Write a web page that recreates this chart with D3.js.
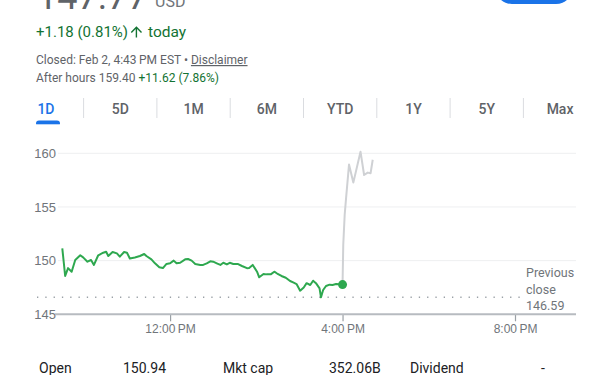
<!DOCTYPE html>
<html>
<head>
<meta charset="utf-8">
<script src="https://cdn.jsdelivr.net/npm/d3@7"></script>
<style>
  body { margin: 0; background: #fff; }
  svg { font-family: Roboto, "Noto Sans", Arial, sans-serif; display: block; }
</style>
</head>
<body>
<svg id="chart" width="592" height="375"></svg>
<script>
// regular session (green)
var times = ["9:30","9:34","9:38","9:43","9:48","9:55","9:59","10:05","10:10","10:14","10:20","10:27","10:31","10:34","10:40","10:46","10:50","10:56","11:00","11:04","11:11","11:18","11:24","11:27","11:34","11:39","11:45","11:50","11:55","12:00","12:05","12:09","12:14","12:21","12:25","12:30","12:35","12:42","12:46","12:51","12:56","13:00","13:05","13:10","13:14","13:19","13:23","13:28","13:34","13:40","13:47","13:50","13:55","14:01","14:04","14:10","14:14","14:20","14:25","14:29","14:35","14:41","14:47","14:52","14:56","15:01","15:06","15:10","15:15","15:19","15:23","15:28","15:30","15:33","15:37","15:42","15:46","15:51","16:00"];
var prices = [151.15,148.57,149.3,148.97,150.06,150.5,150.3,149.9,150.06,149.6,150.5,150.74,150.83,150.43,150.8,150.68,150.37,150.8,150.74,150.2,150.3,150.43,150.62,150.43,150.12,149.75,149.38,149.31,149.69,149.75,150.0,149.75,149.8,150.12,150.15,150.0,149.69,149.6,149.6,149.75,149.94,149.9,149.75,149.6,149.8,149.65,149.8,149.69,149.69,149.5,149.3,149.31,149.6,148.97,148.45,148.75,148.72,148.72,148.97,148.8,148.57,148.41,148.1,147.95,147.82,147.2,147.5,147.9,147.73,148.13,147.9,147.42,146.58,147.26,147.64,147.76,147.73,147.82,147.77];

// after hours (grey)
var ahTimes = ["16:00","16:01","16:03","16:05","16:09","16:15","16:25","16:30","16:35","16:39","16:42"];
var ahPrices = [147.77,151.5,154.3,155.9,158.95,157.27,160.15,157.98,158.2,158.14,159.4];

var previousClose = 146.59;
var yTicks = [145, 150, 155, 160];
var xTicks = ["12:00", "16:00", "20:00"];
var xDomain = ["9:30", "20:00"];
var tabs = ["1D", "5D", "1M", "6M", "YTD", "1Y", "5Y", "Max"];
var stats = [["Open", "150.94"], ["Mkt cap", "352.06B"], ["Dividend", "-"]];

var parseTime = d3.timeParse("%H:%M");
var svg = d3.select("#chart");

// header
svg.append("rect").attr("x", 495).attr("y", -30).attr("width", 78).attr("height", 34)
  .attr("rx", 17).attr("fill", "#1a73e8");

svg.append("text").attr("x", 37).attr("y", 9).attr("font-size", 36).attr("fill", "#5f6368")
  .text("147.77");
svg.append("text").attr("x", 155).attr("y", 7).attr("font-size", 16).attr("fill", "#70757a")
  .text("USD");

var green = "#137333";
svg.append("text").attr("x", 36).attr("y", 37).attr("font-size", 15).attr("fill", green)
  .text("+1.18 (0.81%)");
svg.append("path")
  .attr("d", "M4 12l1.41 1.41L11 7.83V20h2V7.83l5.58 5.59L20 12l-8-8-8 8z")
  .attr("transform", "translate(128,23.5) scale(0.7)")
  .attr("fill", green);
svg.append("text").attr("x", 148).attr("y", 37).attr("font-size", 15.5).attr("fill", green)
  .text("today");

var closedText = svg.append("text").attr("x", 36).attr("y", 64).attr("font-size", 12).attr("fill", "#5f6368");
closedText.append("tspan").text("Closed: Feb 2, 4:43\u2009PM EST \u2022 ");
closedText.append("tspan").attr("text-decoration", "underline").text("Disclaimer");

var ahText = svg.append("text").attr("x", 36).attr("y", 82).attr("font-size", 12).attr("fill", "#5f6368");
ahText.append("tspan").text("After hours 159.40 ");
ahText.append("tspan").attr("fill", green).text("+11.62 (7.86%)");

// tabs
var tabW = 73.3, tabX0 = 10.3;
svg.selectAll(".tab").data(tabs).enter().append("text")
  .attr("class", "tab")
  .attr("x", function (d, i) { return tabX0 + tabW * i + tabW / 2 - (i == 0 ? 1 : 0); })
  .attr("y", 114)
  .attr("text-anchor", "middle")
  .attr("font-size", 14)
  .attr("font-weight", 500)
  .attr("fill", function (d, i) { return i == 0 ? "#1a73e8" : "#5f6368"; })
  .text(function (d) { return d; });
svg.selectAll(".sep").data(tabs.slice(1)).enter().append("line")
  .attr("x1", function (d, i) { return tabX0 + tabW * (i + 1); })
  .attr("x2", function (d, i) { return tabX0 + tabW * (i + 1); })
  .attr("y1", 98).attr("y2", 118)
  .attr("stroke", "#dadce0");
svg.append("rect").attr("x", 36).attr("y", 120.5).attr("width", 24).attr("height", 6)
  .attr("rx", 3).attr("fill", "#1a73e8");
svg.append("rect").attr("x", 30).attr("y", 124.3).attr("width", 40).attr("height", 6).attr("fill", "#fff");

// chart
var x = d3.scaleTime().domain(xDomain.map(parseTime)).range([62.3, 515]);
var y = d3.scaleLinear().domain([145, 160]).range([314.3, 153.3]);
var left = 55, right = 576;

svg.append("g").selectAll("line").data(yTicks.slice(1)).enter().append("line")
  .attr("x1", 58).attr("x2", right)
  .attr("y1", function (d) { return y(d); }).attr("y2", function (d) { return y(d); })
  .attr("stroke", "#eeeff1");

var yAxis = svg.append("g").attr("transform", "translate(" + (left + 1) + ",0)")
  .call(d3.axisLeft(y).tickValues(yTicks).tickSize(0).tickPadding(0));
yAxis.select(".domain").remove();
yAxis.selectAll("text").attr("font-size", 13).attr("fill", "#70757a").attr("font-family", null);

svg.append("line")
  .attr("x1", 37).attr("x2", 522)
  .attr("y1", y(previousClose)).attr("y2", y(previousClose))
  .attr("stroke", "#9aa0a6").attr("stroke-width", 1.3).attr("stroke-dasharray", "1.3,7");

var xAxis = svg.append("g").attr("transform", "translate(0," + y(145) + ")")
  .call(d3.axisBottom(x).tickValues(xTicks.map(parseTime)).tickSize(7).tickPadding(3)
    .tickFormat(d3.timeFormat("%-I:%M\u2009%p")));
xAxis.select(".domain").remove();
xAxis.selectAll("line").attr("stroke", "#9aa0a6").attr("stroke-width", 1.2);
xAxis.selectAll("text").attr("font-size", 12).attr("fill", "#70757a").attr("font-family", null);
svg.append("line").attr("x1", left).attr("x2", right)
  .attr("y1", y(145)).attr("y2", y(145))
  .attr("stroke", "#b7bbc0").attr("stroke-width", 2);

var line = d3.line()
  .x(function (d) { return x(parseTime(d[0])); })
  .y(function (d) { return y(d[1]); });

svg.append("path").datum(d3.zip(ahTimes, ahPrices))
  .attr("d", line).attr("fill", "none")
  .attr("stroke", "#cfd1d4").attr("stroke-width", 2).attr("stroke-linejoin", "round");

svg.append("path").datum(d3.zip(times, prices))
  .attr("d", line).attr("fill", "none")
  .attr("stroke", "#2ea84f").attr("stroke-width", 2).attr("stroke-linejoin", "round");

svg.append("circle")
  .attr("cx", x(parseTime(times[times.length - 1])))
  .attr("cy", y(prices[prices.length - 1]))
  .attr("r", 4.5).attr("fill", "#2ea84f");

var pc = svg.append("text").attr("x", 526).attr("font-size", 12.5).attr("fill", "#70757a");
["Previous", "close", previousClose.toFixed(2)].forEach(function (t, i) {
  pc.append("tspan").attr("x", 526).attr("y", 277 + i * 16.5).text(t);
});

// stats row
var statX = [[39, 123], [223, 329], [410, 541]];
stats.forEach(function (s, i) {
  svg.append("text").attr("x", statX[i][0]).attr("y", 373).attr("font-size", 14).attr("fill", "#202124").text(s[0]);
  svg.append("text").attr("x", statX[i][1]).attr("y", 373).attr("font-size", 14).attr("fill", "#202124").text(s[1]);
});
</script>
</body>
</html>
